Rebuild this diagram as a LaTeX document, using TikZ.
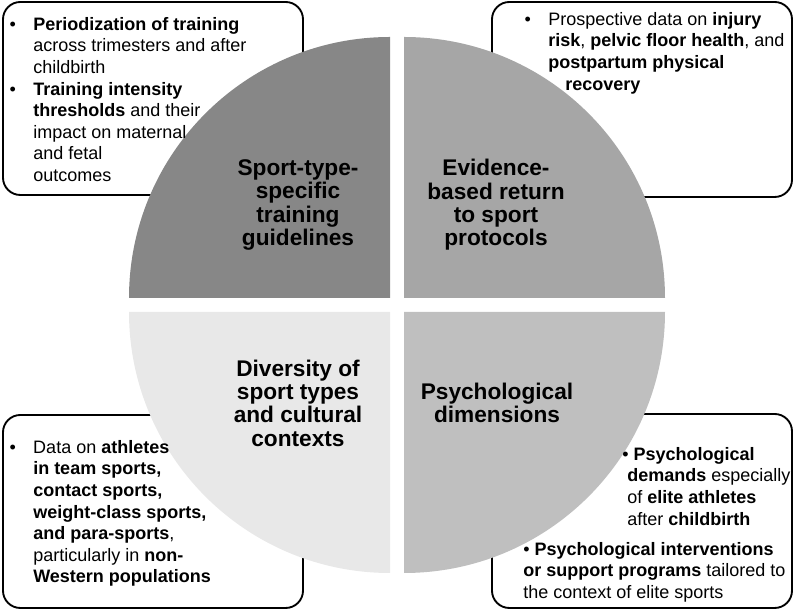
\documentclass[tikz,border=0pt]{standalone}
\usepackage{fontspec}
\setmainfont{Liberation Sans}
\definecolor{quadtl}{gray}{0.53}
\definecolor{quadtr}{gray}{0.65}
\definecolor{quadbl}{gray}{0.91}
\definecolor{quadbr}{gray}{0.75}
\newcommand{\itembul}{\llap{\textbullet\hspace{13pt}}}

\begin{document}
\begin{tikzpicture}[x=0.75pt,y=0.75pt,
  infobox/.style={draw=black, line width=1.4pt, rounded corners=13pt, fill=white},
  quadlabel/.style={align=center, inner sep=0pt, font=\fontsize{17}{17.5}\selectfont\bfseries},
  boxtext/.style={align=left, anchor=north west, inner sep=0pt, font=\fontsize{13.5}{16.2}\selectfont}]
\useasboundingbox (0,0) rectangle (794,610);

% boxes behind the circle
\draw[infobox] (3,415) rectangle (303,608);
\draw[infobox] (492,413) rectangle (792,608);
\draw[infobox] (3,2) rectangle (303,195);
\draw[infobox] (492,2) rectangle (792,196);

% four quadrants
\fill[quadtl] (390,312) -- ++(-261,0) arc[start angle=180, end angle=90, radius=195.75pt] -- cycle;
\fill[quadtr] (404,312) -- ++(0,261) arc[start angle=90, end angle=0, radius=195.75pt] -- cycle;
\fill[quadbl] (390,298) -- ++(0,-261) arc[start angle=270, end angle=180, radius=195.75pt] -- cycle;
\fill[quadbr] (404,298) -- ++(261,0) arc[start angle=0, end angle=-90, radius=195.75pt] -- cycle;

% quadrant labels
\node[quadlabel] (training) at (298,405) {Sport-type-\\specific\\training\\guidelines};
\node[quadlabel] (returnsport) at (496,405) {Evidence-\\based return\\to sport\\protocols};
\node[quadlabel] (diversity) at (298,207) {Diversity of\\sport types\\and cultural\\contexts};
\node[quadlabel] (psych) at (497,207) {Psychological\\dimensions};

% box texts
\node[boxtext] (tltext) at (33,593) {\itembul\textbf{Periodization of training}\\
  across trimesters and after\\
  childbirth\\
  \itembul\textbf{Training intensity}\\
  \textbf{thresholds} and their\\
  impact on maternal\\
  and fetal\\
  outcomes};
\node[boxtext] (trtext) at (548,598) {\itembul Prospective data on \textbf{injury}\\
  \textbf{risk}, \textbf{pelvic floor health}, and\\
  \textbf{postpartum physical}\\
  \hspace*{12.75pt}\textbf{recovery}};
\node[boxtext] (bltext) at (33,170) {\itembul Data on \textbf{athletes}\\
  \textbf{in team sports,}\\
  \textbf{contact sports,}\\
  \textbf{weight-class sports,}\\
  \textbf{and para-sports},\\
  particularly in \textbf{non-}\\
  \textbf{Western populations}};
\node[boxtext] (brdemands) at (622,163) {\textbullet\ \textbf{Psychological}\\
  \hspace*{3.75pt}\textbf{demands} especially\\
  \hspace*{3.75pt}of \textbf{elite athletes}\\
  \hspace*{3.75pt}after \textbf{childbirth}};
\node[boxtext] (brsupport) at (523,68) {\textbullet\ \textbf{Psychological interventions}\\
  \textbf{or support programs} tailored to\\
  the context of elite sports};
\end{tikzpicture}
\end{document}
